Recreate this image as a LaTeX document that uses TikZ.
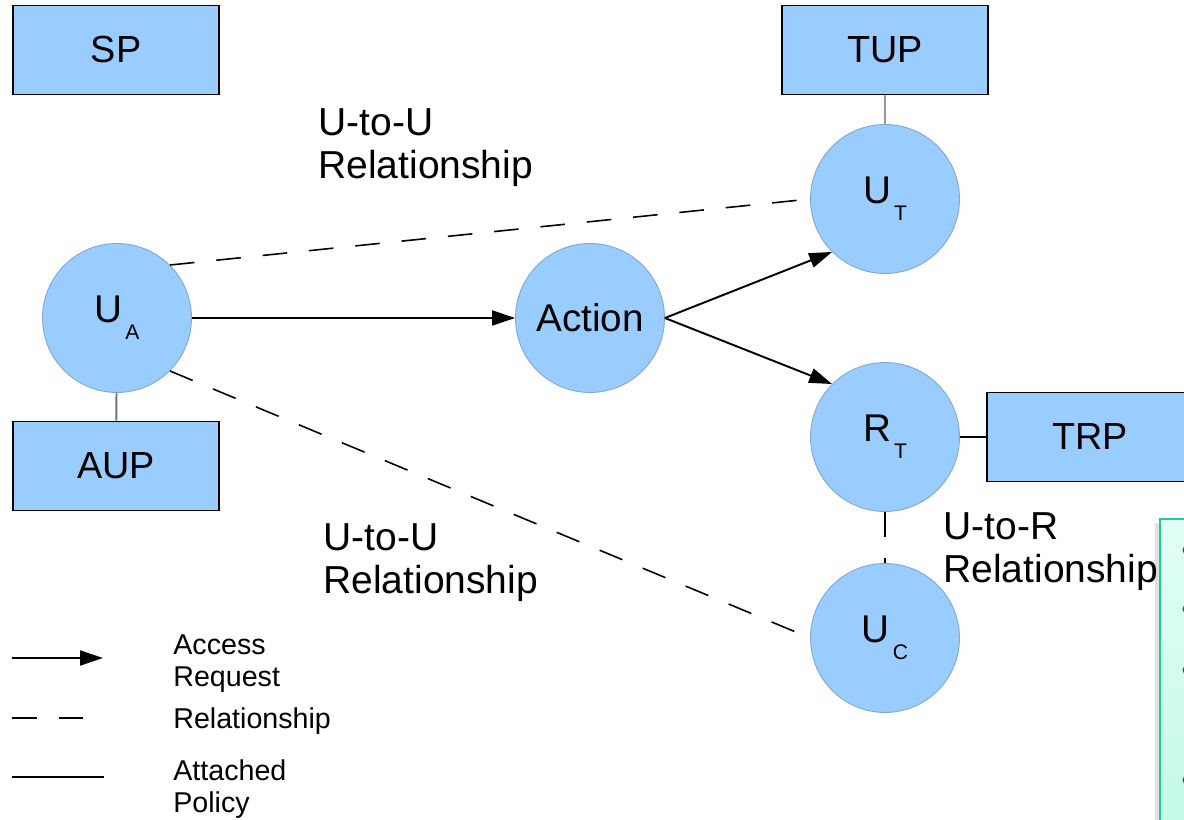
\documentclass[tikz,border=0pt]{standalone}
\usepackage{fontspec}
\setmainfont{Liberation Sans}
\usepackage{tikz}
\usetikzlibrary{arrows.meta}

\definecolor{nodeblue}{HTML}{99CCFF}
\definecolor{nodeedge}{HTML}{7FA7CF}
\definecolor{notetop}{HTML}{E2FFF6}
\definecolor{notebot}{HTML}{BDF8E2}
\definecolor{noteedge}{HTML}{22CC99}
\definecolor{bulletblue}{HTML}{2A4D7F}
\newcommand{\usub}[2]{#1\hspace{0.08em}\raisebox{-9.5pt}{\fontsize{12}{12}\selectfont #2}}

\begin{document}
\begin{tikzpicture}[x=0.02cm,y=-0.02cm,
  ent/.style={circle,fill=nodeblue,draw=nodeedge,line width=0.5pt,minimum size=2.98cm,inner sep=0pt,font=\fontsize{22}{24}\selectfont},
  pol/.style={rectangle,fill=nodeblue,draw=black,line width=1.1pt,minimum width=4.12cm,minimum height=1.78cm,font=\fontsize{21.5}{24}\selectfont},
  lbl/.style={anchor=north west,inner sep=0pt,align=left,font=\fontsize{22.2}{24.5}\selectfont},
  key/.style={anchor=north west,inner sep=0pt,align=left,font=\fontsize{16.3}{18.3}\selectfont},
  req/.style={line width=1.1pt,-{Triangle[length=13pt,width=8.5pt]}},
  rel/.style={line width=0.9pt,dash pattern=on 14pt off 12.5pt},
  att/.style={line width=1.1pt}]
\useasboundingbox (0,0) rectangle (1184,820);
\clip (0,0) rectangle (1184,820);

\fill[black!12] (1155,523) rectangle (1160,830);
\draw[noteedge,line width=1.2pt,top color=notetop,bottom color=notebot] (1160,519) rectangle (1260,900);
\fill[bulletblue] (1187.5,550) circle (5);
\fill[bulletblue] (1187.5,609) circle (5);
\fill[bulletblue] (1187.5,670) circle (5);
\fill[bulletblue] (1187.5,780) circle (5);

\node[pol] (sp) at (116,50) {SP};
\node[pol] (tup) at (885,50) {TUP};
\node[pol] (aup) at (116,466) {AUP};
\node[pol] (trp) at (1090,437) {TRP};

\node[ent] (ua) at (117,318) {\usub{U}{A}};
\node[ent] (act) at (590,318) {Action};
\node[ent] (ut) at (885,199) {\usub{U}{T}};
\node[ent] (rt) at (885,437) {\usub{R}{T}};
\node[ent] (uc) at (885,638) {\usub{U}{C}};

\node[lbl] (uu1) at (318,108) {U-to-U\\Relationship};
\node[lbl] (uu2) at (323,523) {U-to-U\\Relationship};
\node[lbl] (ur) at (943,512) {U-to-R\\Relationship};

\draw[att,black!55] (ua) -- (aup);
\draw[att,black!40] (tup) -- (ut);
\draw[att] (rt) -- (trp);

\draw[req] (ua) -- (act);
\draw[req] (act.east) -- (ut.south west);
\draw[req] (act.east) -- (rt.north west);

\draw[rel] (ua.north east) -- (ut.west);
\draw[rel] (ua.south east) -- (uc.west);
\draw[rel] (rt.south) -- (uc.north);

\coordinate (k1a) at (12,658);
\coordinate (k1b) at (103,658);
\coordinate (k2a) at (12,718);
\coordinate (k2b) at (86,718);
\coordinate (k3a) at (12,777);
\coordinate (k3b) at (104,777);
\draw[req] (k1a) -- (k1b);
\draw[rel] (k2a) -- (k2b);
\draw[att] (k3a) -- (k3b);
\node[key] (k1) at (173,634) {Access\\Request};
\node[key] (k2) at (173,707) {Relationship};
\node[key] (k3) at (173,759) {Attached\\Policy};
\end{tikzpicture}
\end{document}
